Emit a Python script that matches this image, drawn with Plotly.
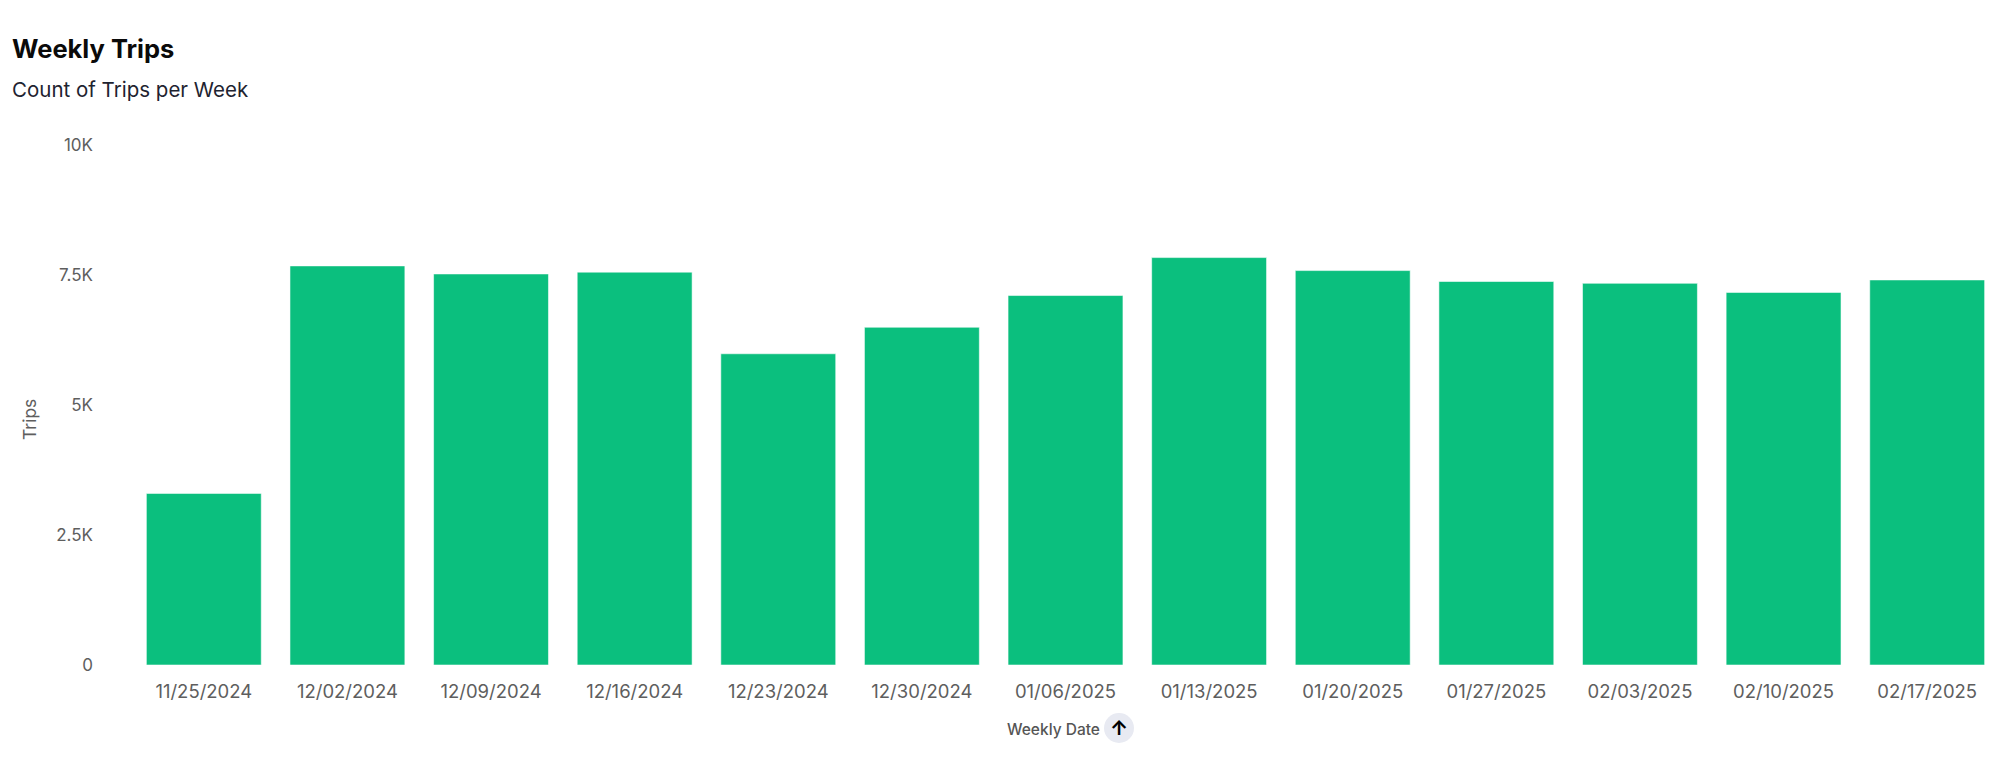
import plotly.graph_objects as go

# ---- data ----
weeks = ["11/25/2024", "12/02/2024", "12/09/2024", "12/16/2024", "12/23/2024",
         "12/30/2024", "01/06/2025", "01/13/2025", "01/20/2025", "01/27/2025",
         "02/03/2025", "02/10/2025", "02/17/2025"]
trips = [3300, 7675, 7520, 7555, 5985, 6495, 7105, 7835, 7585, 7375, 7340, 7165, 7405]
y_tick_vals = [0, 2500, 5000, 7500, 10000]
y_tick_text = ["0", "2.5K", "5K", "7.5K", "10K"]

# page offset from default body margin
OFF = 8
W, H = 1999 - OFF, 757 - OFF
# plot area in page pixels: x 132..1999, y 145..665
ML, MR = 132 - OFF, 0
MT = 145 - OFF
MB = H - (665 - OFF)
PW, PH = W - ML - MR, H - MT - MB

def px_x(x):  # page px -> paper
    return (x - OFF - ML) / PW

def px_y(y):
    return (H - MB - (y - OFF)) / PH

FONT = "Inter, 'Noto Sans', sans-serif"
BAR = "#0BBF7E"

fig = go.Figure(go.Bar(
    x=weeks, y=trips,
    marker=dict(color=BAR, line=dict(color="rgba(255,255,255,0.55)", width=1)),
))

fig.update_layout(
    width=W, height=H,
    margin=dict(l=ML, r=MR, t=MT, b=MB),
    paper_bgcolor="white", plot_bgcolor="white",
    bargap=0.2,
    showlegend=False,
    font=dict(family=FONT, color="#5e5e5e", size=17),
    xaxis=dict(type="category", showgrid=False, zeroline=False, showline=False,
               ticks="", tickfont=dict(size=18.5, color="#5e5e5e"),
               ticklabelstandoff=13),
    yaxis=dict(range=[0, 10000], tickvals=y_tick_vals, ticktext=y_tick_text,
               showgrid=False, zeroline=False, showline=False, ticks="",
               tickfont=dict(size=17, color="#5e5e5e"), ticklabelstandoff=38),
    annotations=[
        dict(text="<b>Weekly Trips</b>", xref="paper", yref="paper",
             x=px_x(10), y=px_y(48), xanchor="left", yanchor="middle",
             showarrow=False, font=dict(size=25.5, color="#0a0a0a", family=FONT)),
        dict(text="Count of Trips per Week", xref="paper", yref="paper",
             x=px_x(10), y=px_y(90), xanchor="left", yanchor="middle",
             showarrow=False, font=dict(size=20.5, color="#1e2330", family=FONT)),
        dict(text="Trips", xref="paper", yref="paper", textangle=-90,
             x=px_x(29), y=px_y(420), xanchor="center", yanchor="middle",
             showarrow=False, font=dict(size=17.5, color="#5e5e5e", family=FONT)),
        dict(text="Weekly Date", xref="paper", yref="paper",
             x=px_x(1102), y=px_y(729), xanchor="right", yanchor="middle",
             showarrow=False,
             font=dict(size=15.5, color="#555555", family=FONT, weight=500)),
        dict(text="<b>↑</b>", xref="paper", yref="paper",
             x=px_x(1119), y=px_y(728), xanchor="center", yanchor="middle",
             showarrow=False, font=dict(size=20, color="#000000", family=FONT)),
    ],
    shapes=[
        dict(type="circle", xref="paper", yref="paper",
             x0=px_x(1104), x1=px_x(1134), y0=px_y(743), y1=px_y(713),
             fillcolor="#e8eaf2", line=dict(width=0), layer="below"),
    ],
)

fig.write_html("out.html")
